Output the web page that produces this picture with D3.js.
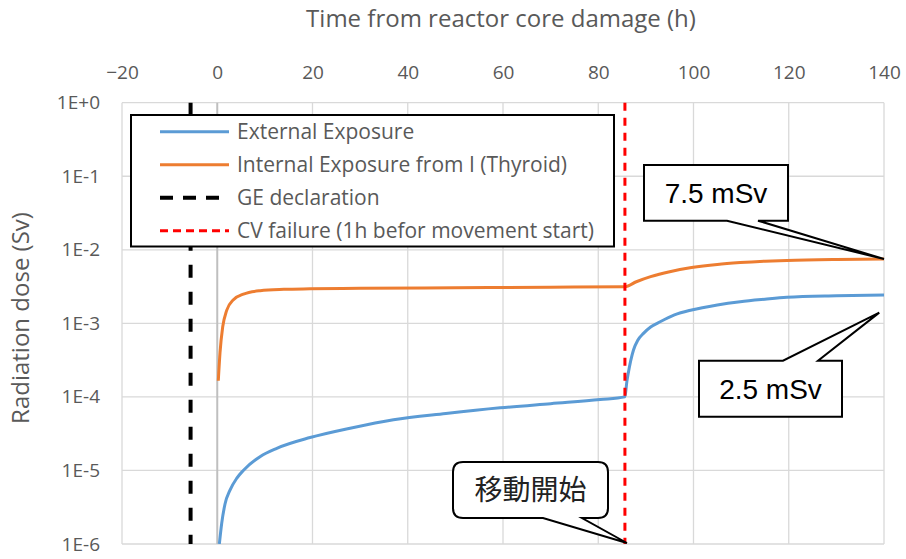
<!DOCTYPE html>
<html>
<head>
<meta charset="utf-8">
<script src="https://cdn.jsdelivr.net/npm/d3@7"></script>
<style>
  body { margin: 0; background: #fff; }
  text { font-family: "Open Sans", sans-serif; }
</style>
</head>
<body>
<div id="chart"></div>
<script>
// x ticks (hours) and y ticks (Sv)
var xTicks = [-20, 0, 20, 40, 60, 80, 100, 120, 140];
var yTicks = [1, 1e-1, 1e-2, 1e-3, 1e-4, 1e-5, 1e-6];
var yTickLabels = ["1E+0", "1E-1", "1E-2", "1E-3", "1E-4", "1E-5", "1E-6"];

// External exposure (blue)
var extTime = [0.44, 0.93, 1.63, 2.68, 4.08, 5.47, 8.98, 12.5, 19.5, 27.9, 37, 48, 59.4, 70, 80.4, 85.6,
               86.0, 86.3, 87.4, 88.3, 89.5, 91, 93, 96, 99.6, 105, 109.8, 115, 119.6, 130, 140];
var extDose = [1e-6, 1.9e-6, 3.5e-6, 5.4e-6, 7.8e-6, 1.0e-5, 1.54e-5, 2.0e-5, 2.8e-5, 3.75e-5, 4.9e-5, 5.95e-5, 7.1e-5, 8.1e-5, 9.2e-5, 1.0e-4,
               1.6e-4, 2.1e-4, 4.35e-4, 5.9e-4, 7.3e-4, 8.9e-4, 1.05e-3, 1.3e-3, 1.52e-3, 1.78e-3, 1.97e-3, 2.13e-3, 2.26e-3, 2.37e-3, 2.43e-3];

// Internal exposure from I, thyroid (orange)
var intTime = [0.22, 0.58, 1.14, 1.98, 3.4, 5.5, 9, 14, 19.5, 30, 50, 70, 85.6,
               88, 91, 95, 99.6, 105, 109.8, 115, 119.6, 130, 140];
var intDose = [1.66e-4, 4.0e-4, 8.9e-4, 1.5e-3, 2.1e-3, 2.5e-3, 2.78e-3, 2.9e-3, 2.95e-3, 3.0e-3, 3.05e-3, 3.1e-3, 3.15e-3,
               3.68e-3, 4.31e-3, 5.04e-3, 5.73e-3, 6.33e-3, 6.7e-3, 7.0e-3, 7.18e-3, 7.4e-3, 7.5e-3];

var geTime = -5.6;   // GE declaration
var cvTime = 85.6;   // CV failure

var seriesNames = ["External Exposure", "Internal Exposure from I (Thyroid)", "GE declaration", "CV failure (1h befor movement start)"];

function init() {
  var W = 906, H = 559;
  var left = 122, right = 884, top = 102.7, bottom = 544;

  var svg = d3.select("#chart").append("svg")
    .attr("width", W)
    .attr("height", H);

  var x = d3.scaleLinear().domain([-20, 140]).range([left, right]);
  var y = d3.scaleLog().domain([1e-6, 1]).range([bottom, top]);

  // grid lines
  svg.append("g").selectAll("line.h")
    .data(yTicks).enter().append("line")
      .attr("x1", left).attr("x2", right)
      .attr("y1", function(d) { return y(d); })
      .attr("y2", function(d) { return y(d); })
      .attr("stroke", "#d9d9d9").attr("stroke-width", 1.3);

  svg.append("g").selectAll("line.v")
    .data(xTicks).enter().append("line")
      .attr("x1", function(d) { return x(d); })
      .attr("x2", function(d) { return x(d); })
      .attr("y1", top).attr("y2", bottom)
      .attr("stroke", function(d) { return d == 0 ? "#bfbfbf" : "#d9d9d9"; })
      .attr("stroke-width", function(d) { return d == 0 ? 2 : 1.3; });

  // x axis on top
  var xAxis = svg.append("g")
    .attr("transform", "translate(0," + top + ")")
    .call(d3.axisTop(x).tickValues(xTicks).tickSize(0).tickPadding(24));
  xAxis.select(".domain").remove();
  xAxis.selectAll("text")
    .style("font-family", "Open Sans").style("font-size", "19px").attr("fill", "#595959");

  // y axis labels
  var yAxis = svg.append("g")
    .attr("transform", "translate(" + left + ",0)")
    .call(d3.axisLeft(y).tickValues(yTicks).tickSize(0).tickPadding(22)
      .tickFormat(function(d, i) { return yTickLabels[i]; }));
  yAxis.select(".domain").remove();
  yAxis.selectAll("text")
    .style("font-family", "Open Sans").style("font-size", "19px").attr("fill", "#595959");

  // axis titles
  svg.append("text")
    .attr("x", (left + right) / 2 - 2)
    .attr("y", 27)
    .attr("text-anchor", "middle")
    .style("font-size", "24px")
    .attr("fill", "#595959")
    .text("Time from reactor core damage (h)");

  svg.append("text")
    .attr("transform", "translate(29," + 318 + ") rotate(-90)")
    .attr("text-anchor", "middle")
    .style("font-size", "24px")
    .attr("fill", "#595959")
    .text("Radiation dose (Sv)");

  // vertical event lines
  svg.append("line")
    .attr("x1", x(geTime)).attr("x2", x(geTime))
    .attr("y1", top).attr("y2", bottom)
    .attr("stroke", "#000").attr("stroke-width", 4)
    .attr("stroke-dasharray", "13,14");

  svg.append("clipPath").attr("id", "plotclip")
    .append("rect").attr("x", left).attr("y", top - 3)
    .attr("width", right - left + 3).attr("height", bottom - top + 3);

  var line = d3.line()
    .x(function(d) { return x(d[0]); })
    .y(function(d) { return y(d[1]); })
    .curve(d3.curveMonotoneX);

  svg.append("path")
    .datum(d3.zip(extTime, extDose))
    .attr("clip-path", "url(#plotclip)")
    .attr("fill", "none")
    .attr("stroke", "#5B9BD5")
    .attr("stroke-width", 3)
    .attr("d", line);

  svg.append("path")
    .datum(d3.zip(intTime, intDose))
    .attr("fill", "none")
    .attr("stroke", "#ED7D31")
    .attr("stroke-width", 3)
    .attr("d", line);

  svg.append("line")
    .attr("x1", x(cvTime)).attr("x2", x(cvTime))
    .attr("y1", top).attr("y2", bottom)
    .attr("stroke", "#ff0000").attr("stroke-width", 3)
    .attr("stroke-dasharray", "8,7");

  // legend
  var lg = svg.append("g");
  lg.append("rect")
    .attr("x", 131).attr("y", 115)
    .attr("width", 483).attr("height", 131.5)
    .attr("fill", "#fff").attr("stroke", "#000").attr("stroke-width", 2);

  var legColors = ["#5B9BD5", "#ED7D31", "#000", "#ff0000"];
  var legDash = [null, null, "13,10", "8,5"];
  lg.selectAll("line.leg")
    .data(seriesNames).enter().append("line")
      .attr("x1", 160).attr("x2", 229)
      .attr("y1", function(d, i) { return 131.7 + i * 33; })
      .attr("y2", function(d, i) { return 131.7 + i * 33; })
      .attr("stroke", function(d, i) { return legColors[i]; })
      .attr("stroke-width", function(d, i) { return i == 2 ? 4 : 3; })
      .attr("stroke-dasharray", function(d, i) { return legDash[i]; });

  lg.selectAll("text.leg")
    .data(seriesNames).enter().append("text")
      .attr("x", 237)
      .attr("y", function(d, i) { return 131.7 + i * 33 + 7.5; })
      .style("font-size", "21px")
      .attr("fill", "#595959")
      .text(function(d) { return d; });

  // callouts
  var tip1 = [x(140), y(7.5e-3)];
  svg.append("path")
    .attr("d", "M644,165 H788 V220.7 H758 L" + tip1[0] + "," + tip1[1] + " L727,220.7 H644 Z")
    .attr("fill", "#fff").attr("stroke", "#000").attr("stroke-width", 2);
  svg.append("text")
    .attr("x", 716).attr("y", 203)
    .attr("text-anchor", "middle")
    .style("font-family", "Liberation Sans").style("font-size", "28px")
    .attr("fill", "#000")
    .text("7.5 mSv");

  var tip2 = [x(139), y(1.4e-3)];
  svg.append("path")
    .attr("d", "M699,360.7 H783 L" + tip2[0] + "," + tip2[1] + " L818,360.7 H842 V416.7 H699 Z")
    .attr("fill", "#fff").attr("stroke", "#000").attr("stroke-width", 2);
  svg.append("text")
    .attr("x", 770.5).attr("y", 399)
    .attr("text-anchor", "middle")
    .style("font-family", "Liberation Sans").style("font-size", "28px")
    .attr("fill", "#000")
    .text("2.5 mSv");

  var tip3 = [x(cvTime) + 2, y(1e-6) - 1];
  var r = 10;
  svg.append("path")
    .attr("d", "M" + (453 + r) + ",462 H" + (608 - r) + " Q608,462 608," + (462 + r) +
      " V" + (518 - r) + " Q608,518 " + (608 - r) + ",518 H582 L" + tip3[0] + "," + tip3[1] +
      " L543,518 H" + (453 + r) + " Q453,518 453," + (518 - r) + " V" + (462 + r) +
      " Q453,462 " + (453 + r) + ",462 Z")
    .attr("fill", "#fff").attr("stroke", "#000").attr("stroke-width", 2);
  svg.append("text")
    .attr("x", 530.5).attr("y", 500)
    .attr("text-anchor", "middle")
    .style("font-family", "Noto Sans CJK JP").style("font-size", "28px")
    .attr("fill", "#222")
    .text("移動開始");
}
window.onload = init;
</script>
</body>
</html>
